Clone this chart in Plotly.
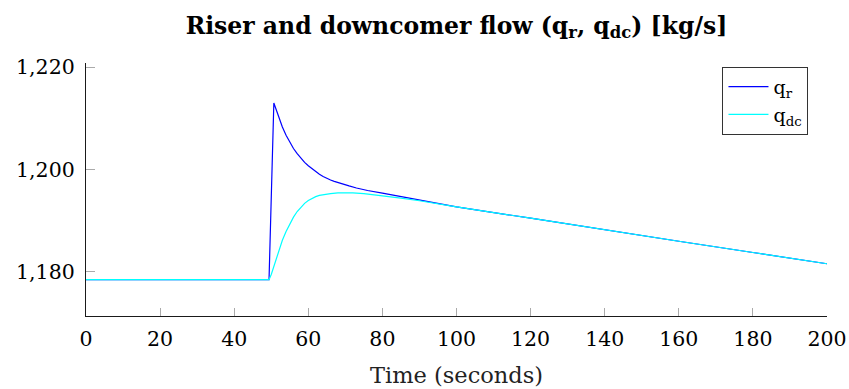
import plotly.graph_objects as go

# Sampled flow response (seconds, kg/s)
time_riser = [0, 49.4, 50.7, 52, 53, 54, 55, 56, 57, 58, 59, 60, 61, 62, 63, 64, 65, 66, 67,
              69, 71, 73, 76, 80, 85, 90, 100, 120, 140, 160, 180, 200]
q_r = [1178.5, 1178.5, 1213.0, 1210.2, 1208.3, 1206.7, 1205.3, 1204.1, 1203.1, 1202.2,
       1201.4, 1200.75, 1200.15, 1199.6, 1199.1, 1198.65, 1198.25, 1197.95, 1197.7,
       1197.2, 1196.8, 1196.4, 1195.9, 1195.4, 1194.7, 1194.0,
       1192.7, 1190.5, 1188.2, 1186.0, 1183.8, 1181.6]

time_downcomer = [0, 49.4, 50, 51, 52, 53, 54, 55, 56, 57, 58, 59, 60, 61, 62, 63, 64, 66,
                  68, 70, 72, 75, 78, 81, 85, 90, 100, 120, 140, 160, 180, 200]
q_dc = [1178.5, 1178.5, 1179.5, 1181.9, 1184.3, 1186.2, 1187.9, 1189.4, 1190.7, 1191.8,
        1192.7, 1193.4, 1193.95, 1194.35, 1194.7, 1194.95, 1195.1, 1195.3,
        1195.45, 1195.5, 1195.45, 1195.3, 1195.05, 1194.75, 1194.4, 1193.9,
        1192.7, 1190.5, 1188.2, 1186.0, 1183.8, 1181.6]

x_ticks = [0, 20, 40, 60, 80, 100, 120, 140, 160, 180, 200]
y_ticks = [1180, 1200, 1220]

SERIF = "DejaVu Serif, Liberation Serif, serif"

fig = go.Figure()
fig.add_trace(go.Scatter(x=time_riser, y=q_r, mode="lines", name="q<sub>r</sub>",
                         line=dict(color="#0000ff", width=1.2)))
fig.add_trace(go.Scatter(x=time_downcomer, y=q_dc, mode="lines", name="q<sub>dc</sub>",
                         line=dict(color="#00ffff", width=1.2)))

fig.update_layout(
    width=849, height=389,
    margin=dict(l=86, r=22, t=63, b=73, autoexpand=False),
    paper_bgcolor="white", plot_bgcolor="white",
    font=dict(family=SERIF, size=20.5, color="black"),
    title=dict(text="<b>Riser and downcomer flow (q<sub>r</sub>, q<sub>dc</sub>) [kg/s]</b>",
               x=0.5, xref="paper", xanchor="center", y=0.935, yanchor="middle",
               font=dict(family=SERIF, size=23.5, color="black")),
    showlegend=True,
    legend=dict(x=0.975, y=0.985, xanchor="right", yanchor="top",
                bgcolor="white", bordercolor="#333333", borderwidth=1,
                font=dict(family=SERIF, size=19), tracegroupgap=0,
                itemwidth=40),
)

fig.update_xaxes(range=[0, 200], tickvals=x_ticks, ticktext=[str(v) for v in x_ticks],
                 showgrid=False, zeroline=False, showline=True, linecolor="#1a1a1a",
                 linewidth=1.3, ticks="inside", ticklen=8, tickwidth=1, tickcolor="#aaaaaa",
                 ticklabelstandoff=4,
                 title=dict(text="Time (seconds)", standoff=17,
                            font=dict(family=SERIF, size=22.5, color="#222222")))
fig.update_yaxes(range=[1171.4, 1220.8], tickvals=y_ticks, tickformat=",d",
                 showgrid=False, zeroline=False, showline=True, linecolor="#1a1a1a",
                 linewidth=1.3, ticks="inside", ticklen=9, tickwidth=1, tickcolor="#aaaaaa",
                 ticklabelstandoff=6)

fig.write_html("out.html")
